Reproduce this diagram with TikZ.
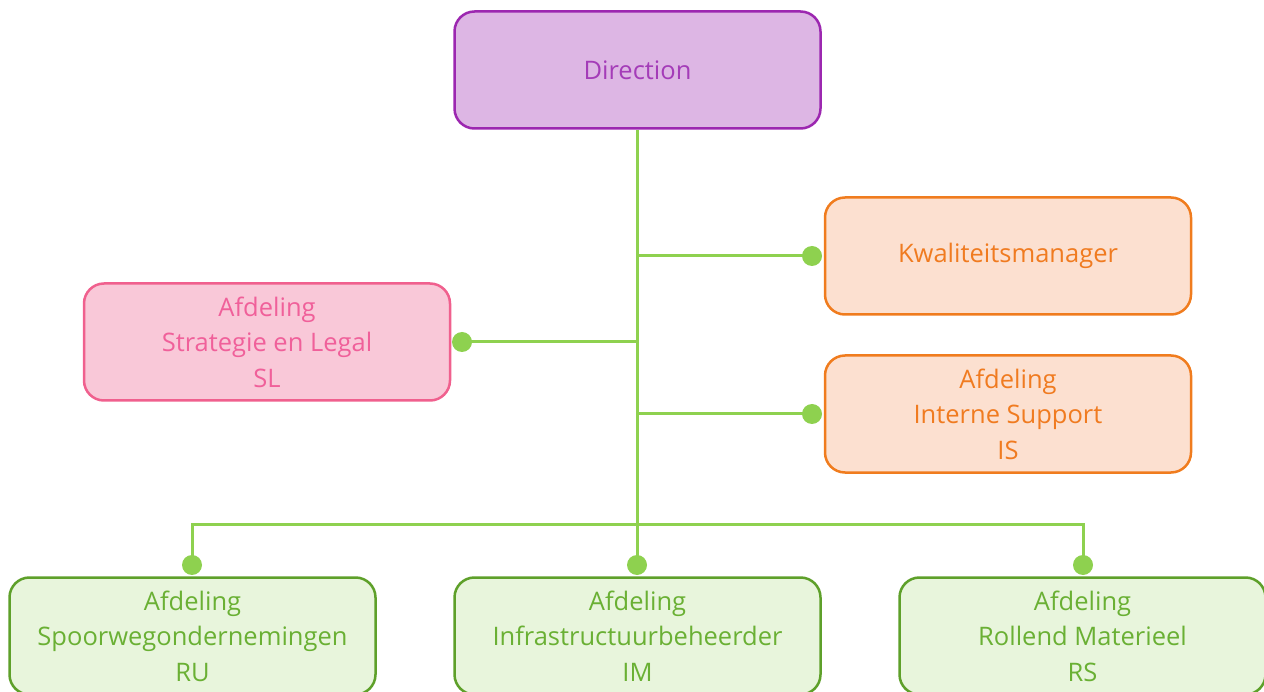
\documentclass[tikz,border=0pt]{standalone}
\usepackage{fontspec}
\setmainfont{Open Sans}
\definecolor{lnk}{HTML}{8ED14F}
\definecolor{purpF}{HTML}{DDB6E4}
\definecolor{purpD}{HTML}{9C27B0}
\definecolor{purpT}{HTML}{A43CB8}
\definecolor{orF}{HTML}{FCE0D0}
\definecolor{orD}{HTML}{F07C1E}
\definecolor{orT}{HTML}{F07B20}
\definecolor{pkF}{HTML}{F9C8D8}
\definecolor{pkD}{HTML}{F0608E}
\definecolor{pkT}{HTML}{F0609A}
\definecolor{grF}{HTML}{E8F5DC}
\definecolor{grD}{HTML}{5EA02A}
\definecolor{grT}{HTML}{6AB034}
\tikzset{
  x=1pt, y=-1pt,
  box/.style={rounded corners=20pt, line width=2.5pt, minimum width=366pt, minimum height=117pt,
    inner sep=0pt, align=center, font=\fontsize{25.5}{35.5}\selectfont},
  purp/.style={box, draw=purpD, fill=purpF, text=purpT},
  orng/.style={box, draw=orD, fill=orF, text=orT},
  pink/.style={box, draw=pkD, fill=pkF, text=pkT},
  grn/.style={box, draw=grD, fill=grF, text=grT},
  link/.style={draw=lnk, line width=3pt},
  dot/.style={circle, fill=lnk, minimum size=20pt, inner sep=0pt},
}
\begin{document}
\begin{tikzpicture}
\useasboundingbox (0,0) rectangle (1264,692);
\clip (0,0) rectangle (1264,692);
\node[purp] (dir) at (637.5,70) {Direction};
\node[orng] (kw) at (1008,256) {Kwaliteitsmanager};
\node[orng] (is) at (1008,414) {Afdeling\\Interne Support\\IS};
\node[pink] (sl) at (267,342) {Afdeling\\Strategie en Legal\\SL};
\node[grn] (ru) at (192.5,636) {Afdeling\\Spoorwegondernemingen\\RU};
\node[grn] (im) at (637.5,636) {Afdeling\\Infrastructuurbeheerder\\IM};
\node[grn] (rs) at (1082.5,636) {Afdeling\\Rollend Materieel\\RS};
\node[dot] (dkw) at (812,256) {};
\node[dot] (dis) at (812,414) {};
\node[dot] (dsl) at (462,342) {};
\node[dot] (dru) at (192,565) {};
\node[dot] (dim) at (637,565) {};
\node[dot] (drs) at (1083,565) {};
\coordinate (t1) at (637,256);
\coordinate (t2) at (637,342);
\coordinate (t3) at (637,414);
\coordinate (t4) at (637,524);
\path[link] (dir.south -| dim) -- (dim.center);
\path[link] (t1) -- (dkw.center);
\path[link] (t3) -- (dis.center);
\path[link] (t2) -- (dsl.center);
\path[link] (dru.center) |- (t4) -| (drs.center);
\end{tikzpicture}
\end{document}
